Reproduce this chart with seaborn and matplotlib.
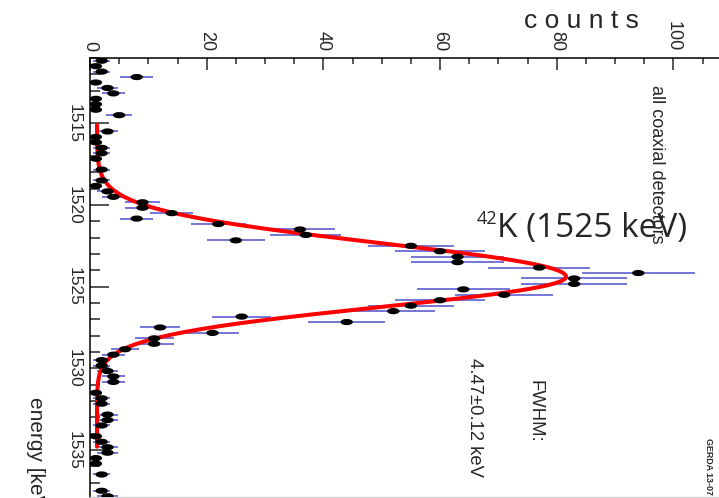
import numpy as np
import pandas as pd
import matplotlib
matplotlib.use("Agg")
import matplotlib.pyplot as plt
import seaborn as sns
from matplotlib.path import Path
from matplotlib.ticker import MultipleLocator

# ---------------- data ----------------
# counts per 1/3-keV bin, first bin starting at 1511.0 keV
counts = [2, 1, 2, 8, 1, 3, 4, 1, 1, 1,
          5, 0, 0, 3, 1, 1, 2, 2, 1, 0,
          2, 0, 2, 1, 3, 4, 9, 9, 14, 8,
          22, 36, 37, 25, 55, 60, 63, 63, 77, 94,
          83, 83, 64, 71, 60, 55, 52, 26, 44, 12,
          21, 11, 11, 6, 4, 2, 2, 3, 4, 4,
          0, 1, 2, 2, 0, 3, 3, 2, 0, 1,
          2, 3, 3, 1, 1, 0, 2, 0, 0, 2,
          3]
bin_low = 1511.0
bin_width = 1.0 / 3.0

# fit of the peak (Gaussian with different widths on both sides + flat background)
fit_mu = 1524.39
fit_amp = 80.4
fit_bkg = 1.2
fit_sigma_low = 2.05
fit_sigma_high = 1.85
fit_start, fit_end = 1515.1, 1534.8

count_ticks = [0, 20, 40, 60, 80, 100]
energy_ticks = [1515, 1520, 1525, 1530, 1535]

# ---------------- build tables ----------------
energy = bin_low + (np.arange(len(counts)) + 0.5) * bin_width
df = pd.DataFrame({"energy": energy, "counts": counts})
df = df[df["counts"] > 0]
df["err"] = np.sqrt(df["counts"])

e_fit = np.linspace(fit_start, fit_end, 600)
sig = np.where(e_fit < fit_mu, fit_sigma_low, fit_sigma_high)
f_fit = fit_bkg + fit_amp * np.exp(-0.5 * ((e_fit - fit_mu) / sig) ** 2)
fit_df = pd.DataFrame({"energy": e_fit, "counts": f_fit})

# ---------------- style ----------------
sns.set_style("ticks")
SANS = ["Liberation Sans", "DejaVu Sans"]
plt.rcParams["font.family"] = SANS

W, H = 719, 498
fig = plt.figure(figsize=(W / 100, H / 100), dpi=100)
ax_left, ax_top, ax_right, ax_bottom = 90, 58, 720, 497
ax = fig.add_axes([ax_left / W, 1 - ax_bottom / H,
                   (ax_right - ax_left) / W, (ax_bottom - ax_top) / H])

# error bars
ax.errorbar(df["counts"], df["energy"], xerr=df["err"], fmt="none",
            ecolor="#6a6ad2", elinewidth=1.3, capsize=0, zorder=2)

# fit curve
sns.lineplot(data=fit_df, x="counts", y="energy", sort=False, estimator=None,
             orient="y", color="#ff0000", lw=2.9, ax=ax, zorder=3)

# points (ellipses, as in the stretched original)
t = np.linspace(0, 2 * np.pi, 40)
ell = Path(np.column_stack([np.cos(t), 0.5 * np.sin(t)]), closed=True)
sns.scatterplot(data=df, x="counts", y="energy", marker=ell, s=80,
                color="black", edgecolor="none", linewidth=0, ax=ax, zorder=4)

ax.set_xlim(0, 108)
ax.set_ylim(1537.88, 1511.0)
ax.set_xlabel("")
ax.set_ylabel("")

ax.xaxis.tick_top()
ax.set_xticks(count_ticks)
ax.set_xticklabels([str(v) for v in count_ticks], rotation=-90,
                   ha="center", va="bottom", rotation_mode="default",
                   fontsize=13, family=SANS)
ax.xaxis.set_minor_locator(MultipleLocator(5))
ax.set_yticks(energy_ticks)
ax.set_yticklabels([str(v) for v in energy_ticks], rotation=-90,
                   ha="right", va="center", rotation_mode="default",
                   fontsize=12.5, family=SANS)
ax.yaxis.set_minor_locator(MultipleLocator(1))
ax.tick_params(axis="x", which="major", direction="in", length=8.6, width=1.1,
               pad=5, top=True, bottom=False)
ax.tick_params(axis="x", which="minor", direction="in", length=4.3, width=1.1,
               top=True, bottom=False)
ax.tick_params(axis="y", which="major", direction="in", length=14, width=1.1,
               pad=6)
ax.tick_params(axis="y", which="minor", direction="in", length=7, width=1.1)

for s in ("top", "left"):
    ax.spines[s].set_color("black")
    ax.spines[s].set_linewidth(1.1)
ax.spines["right"].set_visible(False)
ax.spines["bottom"].set_color("#cfcfcf")
ax.spines["bottom"].set_linewidth(1.0)


def px(x, y):
    return x / W, 1 - y / H


# texts
fig.text(*px(581, 28), "c o u n t s", ha="center", va="baseline",
         fontsize=19, family=SANS)
fig.text(*px(656, 85), "all coaxial detectors", rotation=-90, ha="center",
         va="top", fontsize=13, family=SANS)
fig.text(*px(477, 224), "42", ha="left", va="baseline", fontsize=13,
         family=["Open Sans", "DejaVu Sans"])
fig.text(*px(497, 237), "K (1525 keV)", ha="left", va="baseline", fontsize=24,
         family=["Open Sans", "DejaVu Sans"])
fig.text(*px(535, 380), "FWHM:", rotation=-90, ha="center", va="top",
         fontsize=13.3, family=SANS)
fig.text(*px(474, 358), "4.47\u00b10.12 keV", rotation=-90, ha="center",
         va="top", fontsize=13.3, family=SANS)
fig.text(*px(709, 438), "GERDA 13-07", rotation=-90, ha="center", va="top",
         fontsize=6.4, fontweight="bold", family=SANS)
fig.text(*px(35, 397), "energy [keV]", rotation=-90, ha="center", va="top",
         fontsize=15, family=SANS)

fig.savefig("out.png", dpi=100)
